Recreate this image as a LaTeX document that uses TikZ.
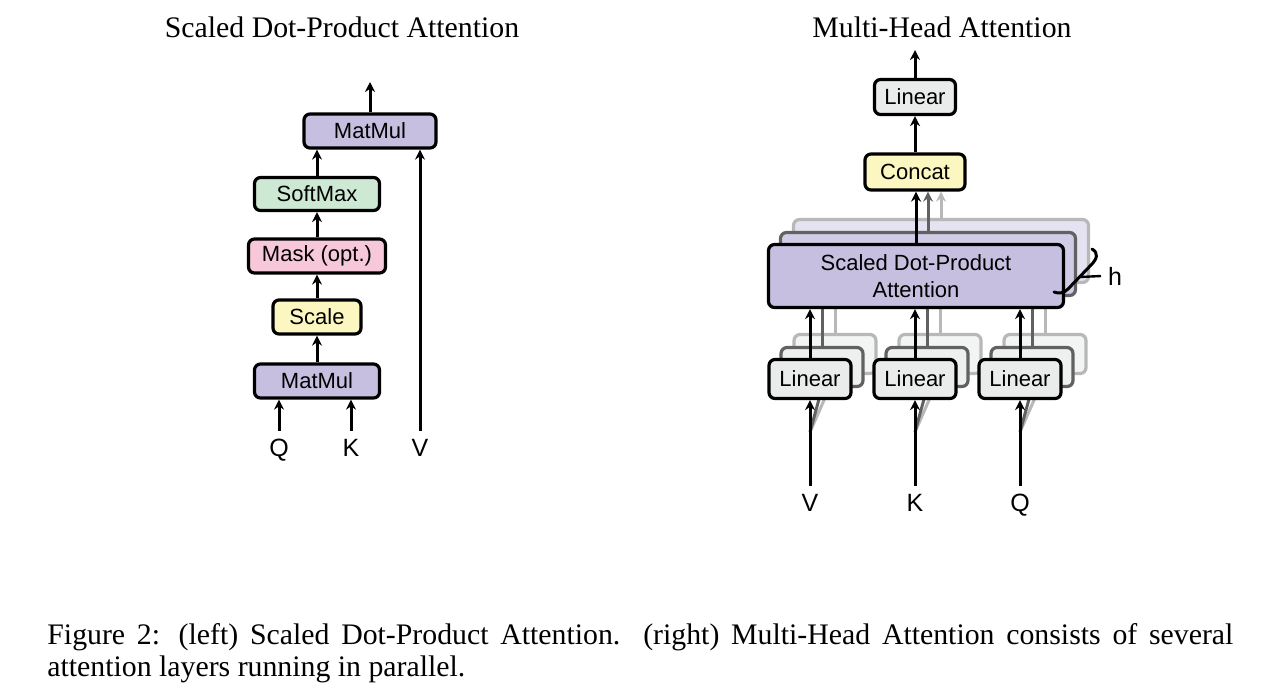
\documentclass[tikz,border=0pt]{standalone}
\usepackage{fontspec}
\setmainfont{Liberation Serif}
\setsansfont{Liberation Sans}
\usetikzlibrary{arrows.meta}

\definecolor{lav}{RGB}{198,191,224}
\definecolor{smgreen}{RGB}{205,232,211}
\definecolor{mskpink}{RGB}{247,200,218}
\definecolor{sclyellow}{RGB}{252,246,192}
\definecolor{lingray}{RGB}{233,236,235}

\begin{document}
\begin{tikzpicture}[x=0.5pt,y=-0.5pt,
  box/.style={draw,line width=1.6pt,rounded corners=3pt,inner sep=0pt,align=center,
    font=\sffamily\fontsize{11}{13.5}\selectfont},
  arr/.style={line width=1.5pt,-{Stealth[length=5pt,width=5pt]}},
  lbl/.style={font=\sffamily\fontsize{12.5}{14}\selectfont,text height=9pt,text depth=0pt},
  ttl/.style={font=\fontsize{14.9}{16.2}\selectfont}]

\useasboundingbox (0,0) rectangle (1284,698);

%%%%%%%%%%%%%%%%%%%%%%%%%%%%%%%%%%%%%%
% left: scaled dot-product attention
\node[ttl] at (342,27) (titleL) {Scaled Dot-Product Attention};

\node[box,fill=lav,minimum width=66pt,minimum height=17pt] at (370,131) (mm2) {MatMul};
\node[box,fill=smgreen,minimum width=62.5pt,minimum height=16.5pt] at (317,194) (soft) {SoftMax};
\node[box,fill=mskpink,minimum width=68.5pt,minimum height=17pt] at (317,256) (mask) {Mask (opt.)};
\node[box,fill=sclyellow,minimum width=44pt,minimum height=17pt] at (317,317) (scale) {Scale};
\node[box,fill=lav,minimum width=62.5pt,minimum height=17pt] at (317,381) (mm1) {MatMul};

\node[lbl] at (279,447) (Q1) {Q};
\node[lbl] at (351,447) (K1) {K};
\node[lbl] at (420,447) (V1) {V};
\coordinate (out1) at (370,82);

\draw[arr] (Q1.north) -- (Q1.north |- mm1.south);
\draw[arr] (K1.north) -- (K1.north |- mm1.south);
\draw[arr] (mm1) -- (scale);
\draw[arr] (scale) -- (mask);
\draw[arr] (mask) -- (soft);
\draw[arr] (soft.north) -- (soft.north |- mm2.south);
\draw[arr] (V1.north) -- (V1.north |- mm2.south);
\draw[arr] (mm2) -- (out1);

%%%%%%%%%%%%%%%%%%%%%%%%%%%%%%%%%%%%%%
% right: multi-head attention
\node[ttl] at (942,27) (titleR) {Multi-Head Attention};

\node[box,fill=lingray,minimum width=40.5pt,minimum height=17.5pt] at (915,97) (linO) {Linear};
\node[box,fill=sclyellow,minimum width=50pt,minimum height=18pt] at (915,172) (concat) {Concat};
\coordinate (out2) at (915,50);

\node[lbl] at (810,502) (V2) {V};
\node[lbl] at (915,502) (K2) {K};
\node[lbl] at (1020,502) (Q2) {Q};
\coordinate (vsplit) at (810,432);
\coordinate (ksplit) at (915,432);
\coordinate (qsplit) at (1020,432);

% back layer
\node[box,draw=black!28,fill=lav!45,minimum width=147.5pt,minimum height=31.5pt] at (941,251) (sdpa3) {};
\node[box,draw=black!28,fill=lingray!55,minimum width=41pt,minimum height=19.5pt] at (835,354) (linV3) {};
\node[box,draw=black!28,fill=lingray!55,minimum width=41pt,minimum height=19.5pt] at (940,354) (linK3) {};
\node[box,draw=black!28,fill=lingray!55,minimum width=41pt,minimum height=19.5pt] at (1045,354) (linQ3) {};
\draw[arr,black!28] (vsplit) -- (linV3.south);
\draw[arr,black!28] (ksplit) -- (linK3.south);
\draw[arr,black!28] (qsplit) -- (linQ3.south);
\draw[arr,black!28] (linV3.north) -- (linV3.north |- sdpa3.south);
\draw[arr,black!28] (linK3.north) -- (linK3.north |- sdpa3.south);
\draw[arr,black!28] (linQ3.north) -- (linQ3.north |- sdpa3.south);
\draw[arr,black!28] (sdpa3.north) -- (sdpa3.north |- concat.south);

% middle layer
\node[box,draw=black!62,fill=lav!80,minimum width=147.5pt,minimum height=31.5pt] at (928,264) (sdpa2) {};
\node[box,draw=black!62,fill=lingray!80,minimum width=41pt,minimum height=19.5pt] at (822,367) (linV2) {};
\node[box,draw=black!62,fill=lingray!80,minimum width=41pt,minimum height=19.5pt] at (927,367) (linK2) {};
\node[box,draw=black!62,fill=lingray!80,minimum width=41pt,minimum height=19.5pt] at (1032,367) (linQ2) {};
\draw[arr,black!62] (vsplit) -- (linV2.south);
\draw[arr,black!62] (ksplit) -- (linK2.south);
\draw[arr,black!62] (qsplit) -- (linQ2.south);
\draw[arr,black!62] (linV2.north) -- (linV2.north |- sdpa2.south);
\draw[arr,black!62] (linK2.north) -- (linK2.north |- sdpa2.south);
\draw[arr,black!62] (linQ2.north) -- (linQ2.north |- sdpa2.south);
\draw[arr,black!62] (sdpa2.north) -- (sdpa2.north |- concat.south);

% front layer
\node[box,fill=lav,minimum width=147.5pt,minimum height=31.5pt] at (916,276) (sdpa) {Scaled Dot-Product\\Attention};
\node[box,fill=lingray,minimum width=41pt,minimum height=19.5pt] at (810,379) (linV) {Linear};
\node[box,fill=lingray,minimum width=41pt,minimum height=19.5pt] at (915,379) (linK) {Linear};
\node[box,fill=lingray,minimum width=41pt,minimum height=19.5pt] at (1020,379) (linQ) {Linear};
\draw[arr] (V2.north) -- (linV.south);
\draw[arr] (K2.north) -- (linK.south);
\draw[arr] (Q2.north) -- (linQ.south);
\draw[arr] (linV.north) -- (linV.north |- sdpa.south);
\draw[arr] (linK.north) -- (linK.north |- sdpa.south);
\draw[arr] (linQ.north) -- (linQ.north |- sdpa.south);
\draw[arr] (sdpa.north) -- (sdpa.north |- concat.south);
\draw[arr] (concat) -- (linO);
\draw[arr] (linO) -- (out2);

% h heads
\node[lbl] at (1115,276) (hlbl) {h};
\coordinate (hbrace) at (1080,277);
\draw[line width=1.5pt,line cap=round] (1092,249) .. controls (1099,253) and (1097,259) .. (1091,265)
  -- (1068,289) .. controls (1064,293) and (1059,294) .. (1054,292);
\draw[line width=1.2pt] (hbrace) -- (hlbl.west);

%%%%%%%%%%%%%%%%%%%%%%%%%%%%%%%%%%%%%%
\node[anchor=north west,text width=593pt,align=justify,inner sep=0pt,
  font=\fontsize{14.9}{16}\selectfont] at (47,623) (caption)
  {\hyphenpenalty=10000\relax\exhyphenpenalty=10000\relax
   Figure 2: (left) Scaled Dot-Product Attention.  (right) Multi-Head Attention consists of several attention layers running in parallel.\par};

\end{tikzpicture}
\end{document}
